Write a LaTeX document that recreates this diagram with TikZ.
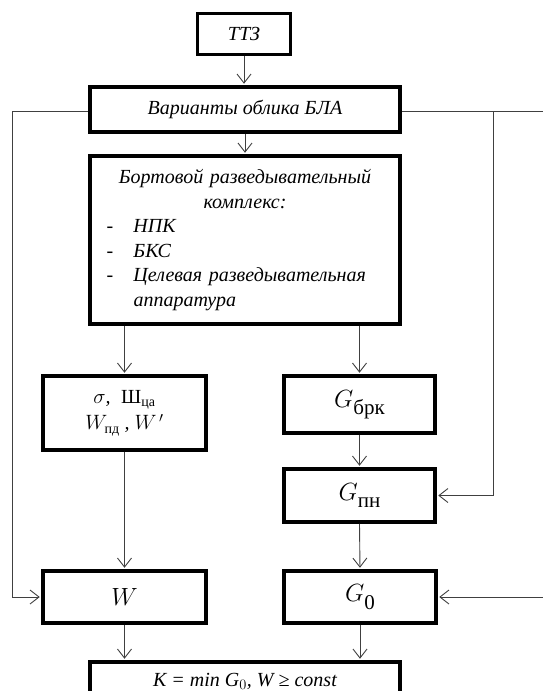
\documentclass[tikz,border=0pt]{standalone}
\usepackage{amsmath}
\usepackage{fontspec}
\setmainfont{Liberation Serif}
\usetikzlibrary{arrows.meta}

\begin{document}
\begin{tikzpicture}[x=1pt,y=-1pt,
    block/.style={draw=borderColour, line width=3.5pt, fill=white, inner sep=0pt,
        font=\itshape\fontsize{20}{24.5}\selectfont},
    link/.style={draw=lineColour, line width=0.9pt, shorten >=1.5pt,
        -{Straight Barb[length=9pt,width=14pt,line width=0.9pt]}},
    wire/.style={draw=lineColour, line width=0.9pt}]
    % Define colours
    \definecolor{borderColour}{HTML}{000000}
    \definecolor{lineColour}{HTML}{404040}

    % Fix the page size
    \useasboundingbox (0,0) rectangle (543,691);

    % Blocks of the scheme
    \node[block, minimum width=93pt, minimum height=41pt] (ttz) at (244,34) {ТТЗ};
    \node[block, minimum width=310pt, minimum height=45pt] (var) at (245,109.5) {Варианты облика БЛА};
    \node[block, minimum width=310pt, minimum height=168pt, text width=277pt] (bort) at (245,240)
        {{\centering Бортовой разведывательный\\ комплекс:\par}
         \noindent\makebox[27pt][l]{-}НПК\par
         \noindent\makebox[27pt][l]{-}БКС\par
         \noindent\hangindent=27pt\hangafter=1\makebox[27pt][l]{-}Целевая разведывательная\linebreak аппаратура\par};
    \node[block, minimum width=163pt, minimum height=74pt, align=center] (sig) at (124.5,413)
        {$\sigma$,\; \text{\upshape Ш}$_{\text{\upshape ца}}$\\[2pt] $W_{\text{\upshape пд}}$ , $W^{\,\prime}$};
    \node[block, minimum width=151pt, minimum height=57pt, font=\fontsize{24}{28}\selectfont] (gbrk) at (359.5,404.5)
        {$G$\raisebox{-0.3em}{\fontsize{21}{21}\selectfont брк}};
    \node[block, minimum width=151pt, minimum height=53pt, font=\fontsize{24}{28}\selectfont] (gpn) at (359.5,495.5)
        {$G$\raisebox{-0.3em}{\fontsize{21}{21}\selectfont пн}};
    \node[block, minimum width=163pt, minimum height=52pt, font=\fontsize{32}{36}\selectfont] (wbox) at (124.5,597) {$W$};
    \node[block, minimum width=152pt, minimum height=52pt, font=\fontsize{24}{28}\selectfont] (g0) at (360,597)
        {$G$\raisebox{-0.3em}{\fontsize{21}{21}\selectfont 0}};
    \node[block, minimum width=310pt, minimum height=38pt, font=\itshape\fontsize{20}{22}\selectfont] (kbox) at (245,681)
        {K = min G$_0$, W ≥ const};

    % Feedback lines at the sides
    \coordinate (leftbus) at (12,111);
    \coordinate (rightbus) at (493,111);
    \coordinate (topend) at (560,111);
    \coordinate (bottomend) at (560,597);

    % Connectors
    \draw[link] (ttz.south) -- (ttz.south |- var.north);
    \draw[link] (var.south) -- (bort.north);
    \draw[link] (sig.north |- bort.south) -- (sig.north);
    \draw[link] (bort.south -| gbrk.north) -- (gbrk.north);
    \draw[link] (sig.south) -- (wbox.north);
    \draw[link] (gbrk.south) -- (gpn.north);
    \draw[link] (gpn.south) -- (g0.north);
    \draw[link] (wbox.south) -- (wbox.south |- kbox.north);
    \draw[link] (g0.south) -- (g0.south |- kbox.north);
    \draw[link] (var.west |- leftbus) -- (leftbus) |- (wbox.west);
    \draw[wire] (var.east |- rightbus) -- (topend);
    \draw[link] (rightbus) |- (gpn.east);
    \draw[link] (bottomend) -- (g0.east);

\end{tikzpicture}
\end{document}
